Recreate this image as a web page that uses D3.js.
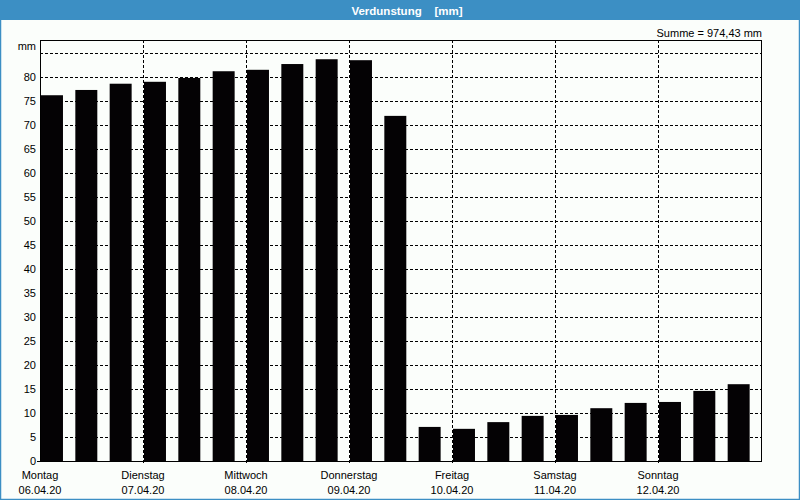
<!DOCTYPE html>
<html>
<head>
<meta charset="utf-8">
<script src="https://cdn.jsdelivr.net/npm/d3@7"></script>
<style>
body { margin: 0; background: #fbfefb; }
svg { display: block; }
</style>
</head>
<body>
<div id="chart"></div>
<script>
// 3 values per day (8 h steps), Verdunstung in mm
var days = ['Montag', 'Dienstag', 'Mittwoch', 'Donnerstag', 'Freitag', 'Samstag', 'Sonntag'];
var dates = ['06.04.20', '07.04.20', '08.04.20', '09.04.20', '10.04.20', '11.04.20', '12.04.20'];
var values = [76.2, 77.3, 78.6, 79.0, 79.8, 81.2, 81.5, 82.7, 83.7, 83.5, 71.9,
    7.1, 6.7, 8.1, 9.4, 9.6, 11.0, 12.1, 12.3, 14.6, 16.0];
var yTicks = [0, 5, 10, 15, 20, 25, 30, 35, 40, 45, 50, 55, 60, 65, 70, 75, 80];
var gridValues = [5, 10, 15, 20, 25, 30, 35, 40, 45, 50, 55, 60, 65, 70, 75, 80, 85];
var title = 'Verdunstung\u00a0\u00a0\u00a0\u00a0[mm]';
var summe = 'Summe = 974,43 mm';

var width = 800, height = 500;
var margin = { top: 40, right: 39, bottom: 39, left: 40 };
var font = '"Liberation Sans", Arial, sans-serif';

var svg = d3.select('#chart').append('svg')
    .attr('width', width)
    .attr('height', height);

// window frame + title bar
svg.append('rect')
    .attr('x', 0.5).attr('y', 0.5)
    .attr('width', width - 1).attr('height', height - 1)
    .style('fill', '#fbfefb')
    .style('stroke', '#3c8fc4')
    .style('stroke-width', 1.5);
svg.append('rect')
    .attr('x', 0).attr('y', 0)
    .attr('width', width).attr('height', 20)
    .style('fill', '#3c8fc4');
svg.append('text')
    .attr('x', 407).attr('y', 14.5)
    .attr('text-anchor', 'middle')
    .style('font-family', font)
    .style('font-weight', 'bold')
    .style('font-size', '11.5px')
    .style('fill', '#fff')
    .text(title);
svg.append('text')
    .attr('x', width - margin.right + 1).attr('y', 37)
    .attr('text-anchor', 'end')
    .style('font-family', font)
    .style('font-size', '11px')
    .style('fill', '#000')
    .text(summe);

var x0 = margin.left, x1 = width - margin.right;
var yBottom = height - margin.bottom;

var x = d3.scaleBand()
    .domain(d3.range(values.length))
    .range([x0, x1]);
var xDay = d3.scaleLinear()
    .domain([0, days.length])
    .range([x0, x1]);
var y = d3.scaleLinear()
    .domain([0, 80])
    .range([yBottom, 77]);

var g = svg.append('g');

// horizontal grid
g.selectAll('.hgrid')
    .data(gridValues)
    .enter().append('line')
    .attr('class', 'hgrid')
    .attr('x1', x0).attr('x2', x1)
    .attr('y1', function (d) { return Math.round(y(d)) + 0.5; })
    .attr('y2', function (d) { return Math.round(y(d)) + 0.5; })
    .style('stroke', '#000')
    .style('stroke-width', 1)
    .style('stroke-dasharray', '3,2');

// vertical day grid
g.selectAll('.vgrid')
    .data(d3.range(1, days.length))
    .enter().append('line')
    .attr('class', 'vgrid')
    .attr('x1', function (d) { return Math.round(xDay(d)) + 0.5; })
    .attr('x2', function (d) { return Math.round(xDay(d)) + 0.5; })
    .attr('y1', margin.top).attr('y2', yBottom + 3)
    .style('stroke', '#000')
    .style('stroke-width', 1)
    .style('stroke-dasharray', '3,2');

// bars
g.selectAll('.bar')
    .data(values)
    .enter().append('rect')
    .attr('class', 'bar')
    .attr('x', function (d, i) { return x(i) + 1; })
    .attr('width', x.bandwidth() * 0.64)
    .attr('y', function (d) { return y(d); })
    .attr('height', function (d) { return yBottom - y(d); })
    .style('fill', '#040204');

// frame
g.append('rect')
    .attr('x', x0 + 0.5).attr('y', margin.top + 0.5)
    .attr('width', x1 - x0).attr('height', yBottom - margin.top)
    .style('fill', 'none')
    .style('stroke', '#000')
    .style('stroke-width', 1);

// y labels
g.selectAll('.ylab')
    .data(yTicks)
    .enter().append('text')
    .attr('class', 'ylab')
    .attr('x', x0 - 4)
    .attr('y', function (d) { return y(d) + 4; })
    .attr('text-anchor', 'end')
    .style('font-family', font)
    .style('font-size', '11px')
    .text(function (d) { return d; });
g.append('line')
    .attr('x1', x0 - 3).attr('x2', x0)
    .attr('y1', yBottom + 0.5).attr('y2', yBottom + 0.5)
    .style('stroke', '#000');
g.append('text')
    .attr('x', x0 - 4).attr('y', 50)
    .attr('text-anchor', 'end')
    .style('font-family', font)
    .style('font-size', '11px')
    .text('mm');

// x labels
var lab = g.selectAll('.xlab')
    .data(days)
    .enter().append('g')
    .attr('class', 'xlab')
    .attr('transform', function (d, i) { return 'translate(' + xDay(i) + ',0)'; });
lab.append('text')
    .attr('y', yBottom + 18)
    .attr('text-anchor', 'middle')
    .style('font-family', font)
    .style('font-size', '11px')
    .text(function (d) { return d; });
lab.append('text')
    .attr('y', yBottom + 33)
    .attr('text-anchor', 'middle')
    .style('font-family', font)
    .style('font-size', '11px')
    .text(function (d, i) { return dates[i]; });
</script>
</body>
</html>
